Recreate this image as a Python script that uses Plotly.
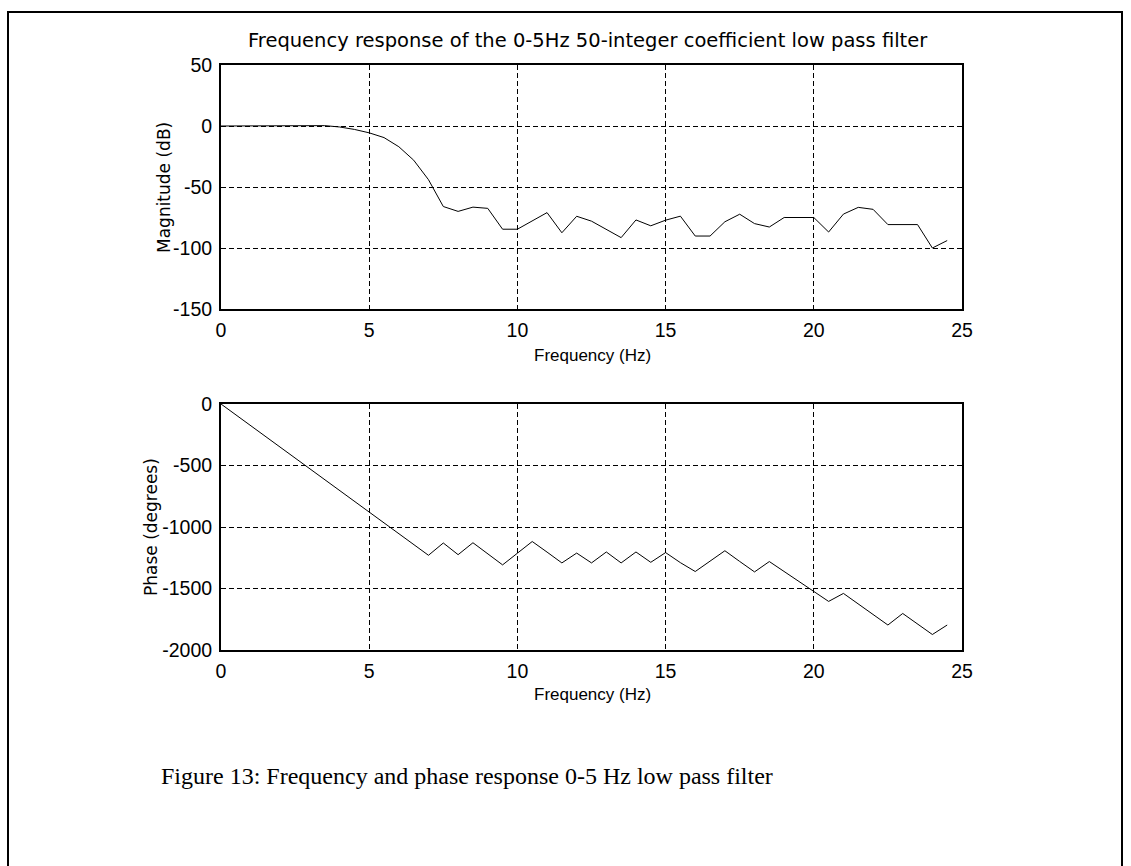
import plotly.graph_objects as go

# Frequency grid of the 50-point response (Hz)
freq_hz = [i * 0.5 for i in range(50)]

# Magnitude response (dB)
magnitude_db = [
    0, 0, 0, 0, 0.2, 0.4, 0.5, 0.3, -0.8, -2.8,
    -5.6, -9.5, -17, -28, -44, -66, -70, -66.5, -67.5, -84.6,
    -84.6, -78, -71, -87.5, -74, -78, -85, -91.5, -77, -81.8,
    -77.2, -73.9, -90.2, -90.2, -78.5, -72.3, -80, -82.8, -75, -75,
    -75, -86.9, -72.2, -66.7, -68.3, -80.8, -80.8, -80.8, -100, -93.9,
]

# Phase response (degrees)
phase_deg = [
    0, -88, -176, -265, -353, -441, -529, -617, -706, -794,
    -882, -970, -1058, -1147, -1230, -1130, -1225, -1128, -1218, -1308,
    -1213, -1118, -1204, -1292, -1212, -1292, -1203, -1292, -1203, -1287,
    -1208, -1290, -1362, -1280, -1193, -1280, -1365, -1281, -1363, -1445,
    -1527, -1605, -1540, -1626, -1712, -1797, -1703, -1788, -1874, -1797,
]

x_ticks = [0, 5, 10, 15, 20, 25]
mag_ticks = [-150, -100, -50, 0, 50]
phase_ticks = [-2000, -1500, -1000, -500, 0]

TITLE = "Frequency response of the 0-5Hz 50-integer coefficient low pass filter"
XLABEL = "Frequency (Hz)"
CAPTION = "Figure 13: Frequency and phase response 0-5 Hz low pass filter"

W, H = 1131, 866


def px(x):
    return x / W


def py(y):
    return 1 - y / H


def plain_labels(values):
    # plain hyphen-minus, as printed by the plotting tool
    return [str(v) for v in values]


SANS = "DejaVu Sans"
ARIAL = "Liberation Sans"
TICK_FONT = dict(family=ARIAL, size=19.5, color="black")

fig = go.Figure()
fig.add_trace(go.Scatter(x=freq_hz, y=magnitude_db, mode="lines",
                         line=dict(color="black", width=1),
                         xaxis="x", yaxis="y", showlegend=False))
fig.add_trace(go.Scatter(x=freq_hz, y=phase_deg, mode="lines",
                         line=dict(color="black", width=1),
                         xaxis="x2", yaxis="y2", showlegend=False))

axis_style = dict(
    showline=True, mirror=True, linecolor="black", linewidth=2,
    showgrid=True, gridcolor="black", gridwidth=1, griddash="5px,3px",
    zeroline=False, ticks="", tickfont=TICK_FONT,
    ticklabelstandoff=3, automargin=False, fixedrange=True,
)

fig.update_layout(
    width=W, height=H,
    margin=dict(l=0, r=0, t=0, b=0),
    paper_bgcolor="white", plot_bgcolor="white",
    xaxis=dict(domain=[px(221), px(962)], range=[0, 25], tickvals=x_ticks,
               ticktext=plain_labels(x_ticks), anchor="y", **axis_style),
    yaxis=dict(domain=[py(309), py(65)], range=[-150, 50], tickvals=mag_ticks,
               ticktext=plain_labels(mag_ticks), anchor="x", **axis_style),
    xaxis2=dict(domain=[px(221), px(962)], range=[0, 25], tickvals=x_ticks,
                ticktext=plain_labels(x_ticks), anchor="y2", **axis_style),
    yaxis2=dict(domain=[py(650), py(404)], range=[-2000, 0], tickvals=phase_ticks,
                ticktext=plain_labels(phase_ticks), anchor="x2", **axis_style),
)

annotations = [
    dict(text=TITLE, x=px(588), y=py(41), font=dict(family=SANS, size=19.5, color="black")),
    dict(text="Magnitude (dB)", x=px(164), y=py(187), textangle=-90,
         font=dict(family=SANS, size=17, color="black")),
    dict(text="Phase (degrees)", x=px(151), y=py(527), textangle=-90,
         font=dict(family=SANS, size=17, color="black")),
    dict(text=XLABEL, x=px(592), y=py(355), font=dict(family=ARIAL, size=17, color="black")),
    dict(text=XLABEL, x=px(592), y=py(694), font=dict(family=ARIAL, size=17, color="black")),
    dict(text=CAPTION, x=px(467), y=py(776),
         font=dict(family="Liberation Serif", size=24, color="black")),
]
for a in annotations:
    a.update(xref="paper", yref="paper", showarrow=False,
             xanchor="center", yanchor="middle")
fig.update_layout(annotations=annotations)

# Page frame around the figure
fig.add_shape(type="rect", xref="paper", yref="paper",
              x0=px(8), x1=px(1122), y0=py(880), y1=py(12),
              line=dict(color="black", width=2), fillcolor="rgba(0,0,0,0)")

fig.write_html("out.html")
